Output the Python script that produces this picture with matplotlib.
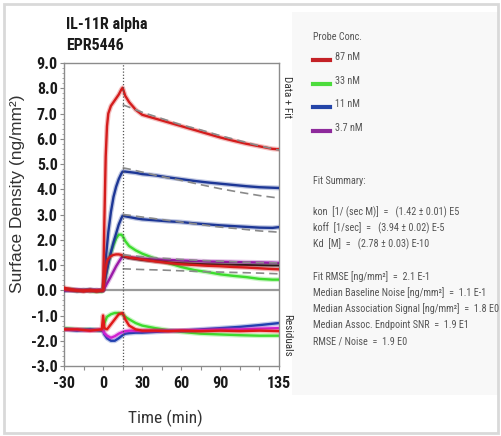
import matplotlib
matplotlib.use("Agg")
import matplotlib.pyplot as plt
import matplotlib.patheffects as pe
from matplotlib import font_manager as fm
from matplotlib.lines import Line2D
from matplotlib.patches import Rectangle

# ---- data ----
t_base = [-30, -25, -20, -15, -10, -5, -1]
t_assoc = [0, 1, 2, 3, 4, 6, 8, 10, 12, 14, 15]
t_diss = [17, 20, 25, 30, 40, 50, 60, 70, 80, 90, 100, 110, 120, 130, 135]

red1_base = [0.1, 0.05, 0.0, -0.05, 0.02, -0.05, 0.0]
red1_assoc = [0.0, 2.8, 5.3, 6.5, 7.0, 7.3, 7.45, 7.6, 7.75, 7.95, 8.02]
red1_diss = [7.7, 7.45, 7.15, 6.95, 6.8, 6.65, 6.5, 6.35, 6.2, 6.05, 5.92, 5.8, 5.7, 5.6, 5.58]

blue1_base = [0.02, 0.0, -0.03, 0.0, 0.02, -0.02, 0.0]
blue1_assoc = [0.0, 0.6, 1.2, 1.75, 2.3, 3.1, 3.7, 4.1, 4.4, 4.62, 4.7]
blue1_diss = [4.7, 4.68, 4.65, 4.6, 4.55, 4.47, 4.4, 4.33, 4.27, 4.22, 4.17, 4.12, 4.08, 4.06, 4.05]

blue2_base = [0.0, 0.02, 0.0, -0.02, 0.0, 0.0, -0.02]
blue2_assoc = [0.0, 0.3, 0.55, 0.8, 1.05, 1.5, 1.9, 2.25, 2.6, 2.85, 2.95]
blue2_diss = [2.93, 2.9, 2.85, 2.81, 2.77, 2.73, 2.7, 2.65, 2.61, 2.57, 2.54, 2.51, 2.48, 2.47, 2.5]

green_base = [0.0, 0.03, -0.02, 0.0, -0.03, -0.05, -0.05]
green_assoc = [0.0, 0.3, 0.6, 0.85, 1.1, 1.5, 1.8, 2.05, 2.2, 2.2, 2.15]
green_diss = [1.95, 1.75, 1.58, 1.45, 1.25, 1.08, 0.92, 0.8, 0.72, 0.63, 0.57, 0.52, 0.45, 0.42, 0.42]

purple_base = [0.0, 0.0, 0.02, 0.0, -0.02, 0.0, 0.0]
purple_assoc = [0.0, 0.08, 0.17, 0.27, 0.36, 0.55, 0.75, 0.95, 1.12, 1.28, 1.35]
purple_diss = [1.33, 1.3, 1.28, 1.25, 1.22, 1.2, 1.18, 1.16, 1.14, 1.13, 1.12, 1.11, 1.1, 1.09, 1.08]

dark_diss = [1.32, 1.28, 1.24, 1.2, 1.15, 1.1, 1.07, 1.05, 1.03, 1.02, 1.01, 1.0, 0.99, 0.98, 0.98]

red2_base = [0.05, 0.0, -0.02, 0.0, -0.03, 0.0, -0.02]
red2_assoc = [0.0, 0.5, 0.9, 1.15, 1.25, 1.35, 1.4, 1.42, 1.42, 1.4, 1.38]
red2_diss = [1.35, 1.3, 1.26, 1.22, 1.14, 1.08, 1.03, 1.0, 0.97, 0.95, 0.92, 0.9, 0.87, 0.84, 0.83]

t_fit = [15, 20, 30, 45, 60, 75, 90, 105, 120, 135]
fit_red1 = [7.35, 7.25, 7.05, 6.8, 6.55, 6.35, 6.12, 5.92, 5.72, 5.55]
fit_blue1 = [4.85, 4.8, 4.68, 4.5, 4.35, 4.18, 4.02, 3.88, 3.75, 3.65]
fit_blue2 = [3.0, 2.97, 2.9, 2.8, 2.7, 2.6, 2.5, 2.43, 2.35, 2.3]
fit_upper = [1.4, 1.38, 1.33, 1.27, 1.22, 1.18, 1.15, 1.12, 1.1, 1.08]
fit_lower = [0.85, 0.84, 0.82, 0.8, 0.77, 0.74, 0.72, 0.7, 0.68, 0.65]

t_res = [-30, -20, -10, -1, 0, 1, 3, 6, 9, 12, 15, 17, 20, 25, 30, 40, 50, 60, 75, 90, 105, 120, 135]
res_red = [-1.55, -1.55, -1.6, -1.55, -1.0, -1.5, -1.55, -1.35, -1.15, -0.95, -0.9, -1.15, -1.4, -1.55,
           -1.6, -1.6, -1.62, -1.6, -1.62, -1.6, -1.62, -1.6, -1.62]
res_green = [-1.5, -1.55, -1.55, -1.6, -1.55, -1.3, -1.05, -0.95, -0.9, -0.9, -0.95, -1.05, -1.15, -1.3,
             -1.4, -1.5, -1.58, -1.65, -1.72, -1.75, -1.78, -1.8, -1.8]
res_blue = [-1.55, -1.6, -1.55, -1.6, -1.6, -1.75, -1.9, -2.0, -2.0, -1.9, -1.78, -1.72, -1.7, -1.68,
            -1.68, -1.65, -1.62, -1.6, -1.55, -1.5, -1.45, -1.38, -1.3]
res_purple = [-1.55, -1.55, -1.6, -1.55, -1.6, -1.7, -1.8, -1.88, -1.82, -1.72, -1.65, -1.62, -1.6, -1.6,
              -1.6, -1.6, -1.6, -1.6, -1.58, -1.56, -1.55, -1.52, -1.5]

legend_labels = ["87 nM", "33 nM", "11 nM", "3.7 nM"]
legend_colors = ["#c42126", "#4cdc3c", "#2445a8", "#8e2a9c"]

x_ticks = [-30, -15, 0, 15, 30, 45, 60, 75, 90, 105, 120, 135]
x_labels = ["-30", "", "0", "", "30", "", "60", "", "90", "", "", "135"]
y_ticks = [-3, -2, -1, 0, 1, 2, 3, 4, 5, 6, 7, 8, 9]

summary_lines = [
    "kon  [1/ (sec M)]  =   (1.42 \u00b1 0.01) E5",
    "koff  [1/sec]  =   (3.94 \u00b1 0.02) E-5",
    "Kd  [M]  =   (2.78 \u00b1 0.03) E-10",
]
stats_lines = [
    "Fit RMSE [ng/mm\u00b2]  =  2.1 E-1",
    "Median Baseline Noise [ng/mm\u00b2]  =  1.1 E-1",
    "Median Association Signal [ng/mm\u00b2]  =  1.8 E0",
    "Median Assoc. Endpoint SNR  =  1.9 E1",
    "RMSE / Noise  =  1.9 E0",
]


def narrow_font(bold):
    # look for any installed narrow / condensed face
    want = 700 if bold else 400
    best = None
    for f in fm.fontManager.ttflist:
        key = (f.name + " " + f.fname).lower()
        if not ("narrow" in key or "condensed" in key or f.stretch == "condensed"):
            continue
        if "semi" in key or "extra" in key or "ultra" in key:
            continue
        if f.style != "normal":
            continue
        w = f.weight if isinstance(f.weight, int) else (700 if "bold" in str(f.weight) else 400)
        score = abs(w - want)
        for i, n in enumerate(["liberation sans narrow", "arial narrow", "roboto condensed",
                               "dejavu", "noto sans", "open sans"]):
            if n in key:
                score += i * 10
                break
        else:
            score += 100
        if best is None or score < best[0]:
            best = (score, f.fname)
    if best is None:
        return None
    return best[1]


NR = narrow_font(False)
NB = narrow_font(True)


def fp(bold=False, size=10):
    path = NB if bold else NR
    if path:
        return fm.FontProperties(fname=path, size=size)
    return fm.FontProperties(family="Liberation Sans", weight="bold" if bold else "normal",
                             size=size * 0.85)


W, H = 502, 436


def fx(px):
    return px / W


def fy(py):
    return 1 - py / H


fig = plt.figure(figsize=(W / 100, H / 100), dpi=100)
fig.patch.set_facecolor("white")

# outer frame and right panel background
fig.add_artist(Rectangle((fx(4), fy(433)), fx(494), 429 / H, transform=fig.transFigure,
                         fill=False, ec="#d9d9d9", lw=2))
fig.add_artist(Rectangle((fx(292), fy(395)), fx(206), 383 / H, transform=fig.transFigure,
                         fc="#f8f8f8", ec="none", zorder=0))

ax = fig.add_axes([fx(64), fy(366), 215 / W, 303 / H])


def data_line(t, y, color, lw=1.7, z=3):
    ax.plot(t, y, color=color, lw=lw, zorder=z, solid_capstyle="round",
            path_effects=[pe.Stroke(linewidth=lw + 1.8, foreground=color, alpha=0.28), pe.Normal()])


ax.axhline(0, color="#9a9a9a", lw=1.6, zorder=1)
ax.axvline(15, color="#555555", lw=0.9, ls=(0, (1, 1.5)), zorder=6)

# residuals
data_line(t_res, res_green, "#3ddc2e", z=2)
data_line(t_res, res_blue, "#2040b0", z=2)
data_line(t_res, res_purple, "#d020d0", z=2)
data_line(t_res, res_red, "#e01818", z=3)

# sensorgrams
data_line(t_base + t_assoc + t_diss, green_base + green_assoc + green_diss, "#3ddc2e")
data_line(t_base + t_assoc + t_diss, blue2_base + blue2_assoc + blue2_diss, "#1d3796")
data_line(t_base + t_assoc + t_diss, blue1_base + blue1_assoc + blue1_diss, "#1d3796")
data_line(t_base + t_assoc + t_diss, purple_base + purple_assoc + purple_diss, "#9a1aa8")
data_line([15] + t_diss, [1.34] + dark_diss, "#2a1a1a", lw=1.4)
data_line(t_base + t_assoc + t_diss, red2_base + red2_assoc + red2_diss, "#d81c1c")
data_line(t_base + t_assoc + t_diss, red1_base + red1_assoc + red1_diss, "#d41c1c", z=4)

for f in [fit_red1, fit_blue1, fit_blue2, fit_upper, fit_lower]:
    ax.plot(t_fit, f, color="#8a8a8a", lw=1.2, ls=(0, (5, 3)), zorder=5)

ax.set_xlim(-30, 135)
ax.set_ylim(-3.0, 9.0)
ax.set_xticks(x_ticks)
ax.set_xticklabels(x_labels)
ax.set_yticks(y_ticks)
ax.set_yticklabels(["%.1f" % v for v in y_ticks])
ax.set_yticks([v / 5 for v in range(-15, 46)], minor=True)
for s in ax.spines.values():
    s.set_color("#8c8c8c")
    s.set_linewidth(1.0)
ax.tick_params(axis="both", which="major", length=3, width=0.8, color="#8c8c8c",
               labelcolor="#1a1a1a")
ax.tick_params(axis="y", which="minor", length=1.8, width=0.6, color="#9c9c9c")
ax.tick_params(axis="y", pad=1.5)
ax.tick_params(axis="x", pad=4)
for lab in ax.get_xticklabels() + ax.get_yticklabels():
    lab.set_fontproperties(fp(True, 11.5))

# labels
fig.text(fx(66), fy(25), "IL-11R alpha", fontproperties=fp(True, 11.5),
         color="#1a1a1a", va="center", ha="left")
fig.text(fx(66), fy(46), "EPR5446", fontproperties=fp(True, 11.5),
         color="#1a1a1a", va="center", ha="left")
fig.text(fx(18), fy(194), "Surface Density (ng/mm\u00b2)", family="Liberation Sans", fontsize=12.5,
         color="#333333", rotation=90, va="center", ha="center")
fig.text(fx(165), fy(418), "Time (min)", fontproperties=fp(False, 12.5),
         color="#333333", va="center", ha="center")
fig.text(fx(287), fy(97), "Data + Fit", fontproperties=fp(False, 8),
         color="#333333", rotation=270, va="center", ha="center")
fig.text(fx(287), fy(335), "Residuals", fontproperties=fp(False, 8),
         color="#333333", rotation=270, va="center", ha="center")

# right panel
tc = "#555555"
ps = 7.3
fig.text(fx(313), fy(37), "Probe Conc.", fontproperties=fp(False, ps), color=tc, va="center")
for i, (lab, c) in enumerate(zip(legend_labels, legend_colors)):
    yy = 57 + i * 23.7
    fig.add_artist(Line2D([fx(313), fx(330)], [fy(yy + 3), fy(yy + 3)], color=c, lw=3,
                          transform=fig.transFigure))
    fig.text(fx(335), fy(yy), lab, fontproperties=fp(False, ps), color=tc, va="center")

fig.text(fx(313), fy(181), "Fit Summary:", fontproperties=fp(False, ps), color=tc, va="center")
for i, s in enumerate(summary_lines):
    fig.text(fx(313), fy(212 + i * 16), s, fontproperties=fp(False, ps), color=tc, va="center")
for i, s in enumerate(stats_lines):
    fig.text(fx(313), fy(277 + i * 16), s, fontproperties=fp(False, ps), color=tc, va="center")

fig.savefig("out.png", dpi=100)
